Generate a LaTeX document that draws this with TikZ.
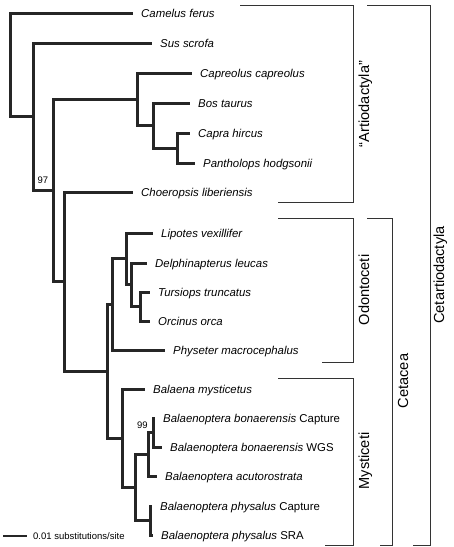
\documentclass[tikz,border=0pt]{standalone}
\usepackage{fontspec}
\setmainfont{Liberation Sans}
\begin{document}
\begin{tikzpicture}[
            x={(1pt,0pt)},
            y={(0pt,-1pt)},
            branch/.style={line width=3pt, draw=black!85},
            bracket/.style={line width=0.8pt, draw=black!80},
            taxon/.style={anchor=base west, inner sep=0pt, xshift=8pt, yshift=-4.1pt, font=\fontsize{11.4}{13}\selectfont},
            clade/.style={anchor=base, inner sep=0pt, rotate=90, font=\fontsize{14.6}{17}\selectfont},
            support/.style={inner sep=0pt, font=\fontsize{9.5}{11}\selectfont}
        ]
        \useasboundingbox (0,0) rectangle (454,547);

        % tips
        \coordinate (camelus) at (133,13);
        \coordinate (sus) at (152,43);
        \coordinate (capreolus) at (192,73);
        \coordinate (bos) at (190,103);
        \coordinate (capra) at (190,133);
        \coordinate (pantholops) at (195,163);
        \coordinate (choeropsis) at (133,192);
        \coordinate (lipotes) at (153,233);
        \coordinate (delphin) at (147,263);
        \coordinate (tursiops) at (150,292);
        \coordinate (orcinus) at (150,321);
        \coordinate (physeter) at (165,350);
        \coordinate (balaena) at (145,389);
        \coordinate (bboncap) at (155,418);
        \coordinate (bbonwgs) at (162,447);
        \coordinate (bacuto) at (157,476);
        \coordinate (bphycap) at (152,506);
        \coordinate (bphysra) at (153,535);

        % internal nodes
        \coordinate (capPan) at (177,148);
        \coordinate (bovid) at (153,125.5);
        \coordinate (pecora) at (137,99.3);
        \coordinate (tursOrc) at (140,306.5);
        \coordinate (delphNd) at (131,284.8);
        \coordinate (lipNd) at (126,258.9);
        \coordinate (odont) at (112,304.4);
        \coordinate (bbon) at (153,432.5);
        \coordinate (minke) at (148,454.3);
        \coordinate (bphys) at (150,520.5);
        \coordinate (bptera) at (135,487.4);
        \coordinate (myst) at (122,438.2);
        \coordinate (cetacea) at (107,371.3);
        \coordinate (whippo) at (64,281.7);
        \coordinate (cetrum) at (53,190.5);
        \coordinate (suNd) at (33,116.7);
        \coordinate (root) at (10,64.9);

        % tree
        \draw[branch] (root) |- (camelus);
        \draw[branch] (root) |- (suNd);
        \draw[branch] (suNd) |- (sus);
        \draw[branch] (suNd) |- (cetrum);
        \draw[branch] (cetrum) |- (pecora);
        \draw[branch] (cetrum) |- (whippo);
        \draw[branch] (pecora) |- (capreolus);
        \draw[branch] (pecora) |- (bovid);
        \draw[branch] (bovid) |- (bos);
        \draw[branch] (bovid) |- (capPan);
        \draw[branch] (capPan) |- (capra);
        \draw[branch] (capPan) |- (pantholops);
        \draw[branch] (whippo) |- (choeropsis);
        \draw[branch] (whippo) |- (cetacea);
        \draw[branch] (cetacea) |- (odont);
        \draw[branch] (cetacea) |- (myst);
        \draw[branch] (odont) |- (lipNd);
        \draw[branch] (odont) |- (physeter);
        \draw[branch] (lipNd) |- (lipotes);
        \draw[branch] (lipNd) |- (delphNd);
        \draw[branch] (delphNd) |- (delphin);
        \draw[branch] (delphNd) |- (tursOrc);
        \draw[branch] (tursOrc) |- (tursiops);
        \draw[branch] (tursOrc) |- (orcinus);
        \draw[branch] (myst) |- (balaena);
        \draw[branch] (myst) |- (bptera);
        \draw[branch] (bptera) |- (minke);
        \draw[branch] (bptera) |- (bphys);
        \draw[branch] (minke) |- (bbon);
        \draw[branch] (minke) |- (bacuto);
        \draw[branch] (bbon) |- (bboncap);
        \draw[branch] (bbon) |- (bbonwgs);
        \draw[branch] (bphys) |- (bphycap);
        \draw[branch] (bphys) |- (bphysra);

        % taxon names
        \node[taxon] (camelusL) at (camelus) {\itshape Camelus ferus};
        \node[taxon] (susL) at (sus) {\itshape Sus scrofa};
        \node[taxon] (capreolusL) at (capreolus) {\itshape Capreolus capreolus};
        \node[taxon] (bosL) at (bos) {\itshape Bos taurus};
        \node[taxon] (capraL) at (capra) {\itshape Capra hircus};
        \node[taxon] (pantholopsL) at (pantholops) {\itshape Pantholops hodgsonii};
        \node[taxon] (choeropsisL) at (choeropsis) {\itshape Choeropsis liberiensis};
        \node[taxon] (lipotesL) at (lipotes) {\itshape Lipotes vexillifer};
        \node[taxon] (delphinL) at (delphin) {\itshape Delphinapterus leucas};
        \node[taxon] (tursiopsL) at (tursiops) {\itshape Tursiops truncatus};
        \node[taxon] (orcinusL) at (orcinus) {\itshape Orcinus orca};
        \node[taxon] (physeterL) at (physeter) {\itshape Physeter macrocephalus};
        \node[taxon] (balaenaL) at (balaena) {\itshape Balaena mysticetus};
        \node[taxon] (bboncapL) at (bboncap) {\textit{Balaenoptera bonaerensis} Capture};
        \node[taxon] (bbonwgsL) at (bbonwgs) {\textit{Balaenoptera bonaerensis} WGS};
        \node[taxon] (bacutoL) at (bacuto) {\itshape Balaenoptera acutorostrata};
        \node[taxon] (bphycapL) at (bphycap) {\textit{Balaenoptera physalus} Capture};
        \node[taxon] (bphysraL) at (bphysra) {\textit{Balaenoptera physalus} SRA};

        % support values
        \node[support] (boot97) at (43,180) {97};
        \node[support] (boot99) at (142.5,425) {99};

        % clade brackets
        \draw[bracket] (240,5) -| (353,202) -- (278,202);
        \draw[bracket] (278,218) -| (353,362) -- (322,362);
        \draw[bracket] (278,378) -| (353,545) -- (325,545);
        \draw[bracket] (367,218) -| (392,545) -- (380,545);
        \draw[bracket] (367,5) -| (430,545) -- (413,545);
        \node[clade] (artioL) at (369,104) {“Artiodactyla”};
        \node[clade] (odontL) at (369,290) {Odontoceti};
        \node[clade] (mystL) at (369,461) {Mysticeti};
        \node[clade] (cetaceaL) at (408,381) {Cetacea};
        \node[clade] (cetartL) at (444,275) {Cetartiodactyla};

        % scale bar
        \coordinate (barA) at (3,536);
        \coordinate (barB) at (27,536);
        \draw[line width=1.5pt, black!85] (barA) -- (barB);
        \node[support, anchor=west, xshift=6pt] (barL) at (barB) {0.01 substitutions/site};
    \end{tikzpicture}
\end{document}
